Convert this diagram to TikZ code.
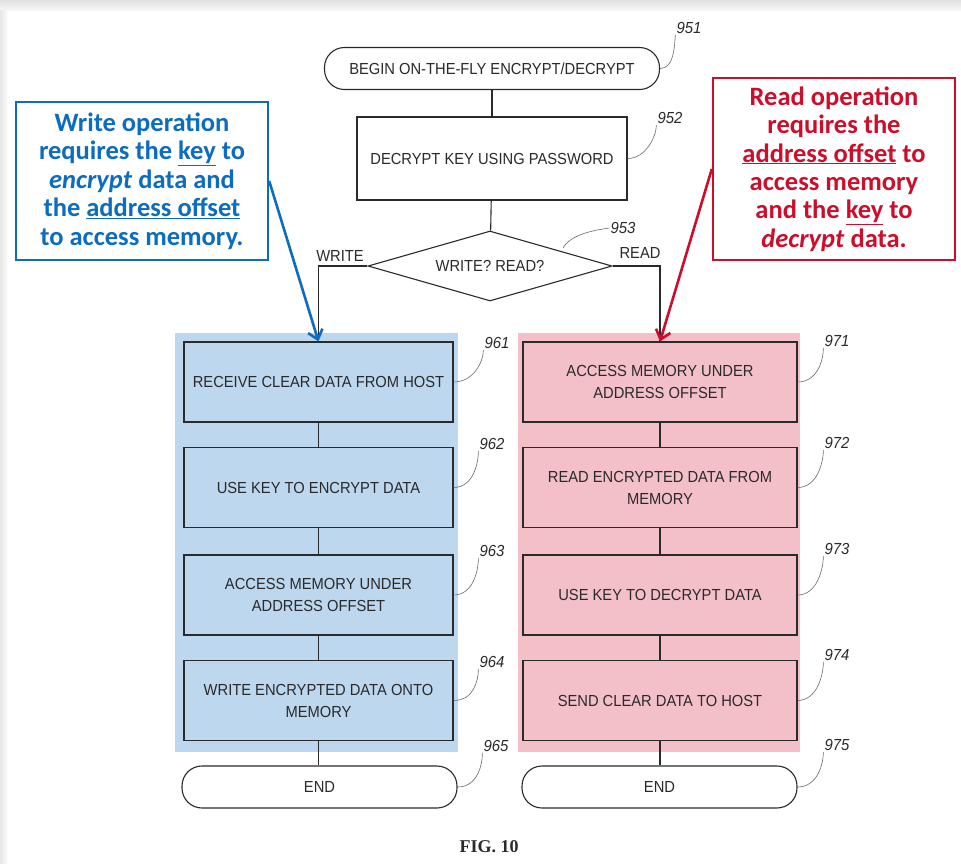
\documentclass[tikz,border=0pt]{standalone}
\usepackage{fontspec}
\usetikzlibrary{shapes.geometric,arrows.meta}
\newfontfamily\patfont[FakeStretch=0.92]{Liberation Sans}
\newfontfamily\reffont[FakeStretch=0.93]{Liberation Sans}
\newfontfamily\callfont{Carlito}
\newfontfamily\figfont{Liberation Serif}
\definecolor{inkc}{HTML}{2A2A2A}
\definecolor{panelblue}{HTML}{BDD7EE}
\definecolor{panelpink}{HTML}{F3BFC9}
\definecolor{noteblue}{HTML}{0B6CC0}
\definecolor{notered}{HTML}{CC0E2A}
\begin{document}
\begin{tikzpicture}[x=1pt,y=-1pt,
  every node/.style={text=inkc},
  stepbox/.style={draw=inkc, line width=1.1pt, minimum width=269pt, minimum height=80pt,
    inner sep=0pt, align=center, font=\patfont\fontsize{16}{22}\selectfont},
  termbox/.style={draw=inkc, line width=1.1pt, rounded corners=20pt, minimum height=42pt,
    inner sep=0pt, align=center, font=\patfont\fontsize{16}{22}\selectfont},
  flow/.style={draw=inkc, line width=1.1pt},
  refnum/.style={font=\reffont\itshape\fontsize{16}{18}\selectfont, inner sep=1pt},
  leader/.style={draw=inkc!70, line width=0.6pt},
  branch/.style={font=\patfont\fontsize{16}{18}\selectfont, inner sep=0pt},
  note/.style={line width=2.4pt, inner sep=0pt, align=center,
    font=\callfont\bfseries\fontsize{26.5}{28.4}\selectfont},
  notearrow/.style={line width=2.6pt, -{Straight Barb[length=9pt,width=15pt,line width=2.6pt]}}
]
\useasboundingbox (0,0) rectangle (961,863);
\fill[white] (0,0) rectangle (961,863);
% soft page edge
\shade[top color=black!12, bottom color=black!3] (0,0) rectangle (961,10);
\shade[left color=black!9, right color=black!3] (0,10) rectangle (7,863);

% coloured panels behind the two branches
\fill[panelblue] (175,333) rectangle (458,752);
\fill[panelpink] (518,333) rectangle (800,752);

% main trunk
\node[termbox, minimum width=335pt] (begin) at (492,68.5) {BEGIN ON-THE-FLY ENCRYPT/DECRYPT};
\node[stepbox, minimum width=270pt, minimum height=83pt] (dkey) at (492,158.5) {DECRYPT KEY USING PASSWORD};
\node[draw=inkc, line width=1.1pt, shape=diamond, aspect=3.4, minimum width=244pt, minimum height=70pt,
  inner sep=0pt, font=\patfont\fontsize{16}{18}\selectfont] (dia) at (490,266) {WRITE? READ?};

% write branch
\node[stepbox] (w1) at (318.5,382) {RECEIVE CLEAR DATA FROM HOST};
\node[stepbox] (w2) at (318.5,487.5) {USE KEY TO ENCRYPT DATA};
\node[stepbox] (w3) at (318.5,595) {ACCESS MEMORY UNDER\\ADDRESS OFFSET};
\node[stepbox] (w4) at (318.5,700.5) {WRITE ENCRYPTED DATA ONTO\\MEMORY};
\node[termbox, minimum width=275pt] (wend) at (319.5,787) {END};

% read branch
\node[stepbox, minimum width=274pt] (r1) at (660,382) {ACCESS MEMORY UNDER\\ADDRESS OFFSET};
\node[stepbox, minimum width=274pt] (r2) at (660,487.5) {READ ENCRYPTED DATA FROM\\MEMORY};
\node[stepbox, minimum width=274pt] (r3) at (660,595) {USE KEY TO DECRYPT DATA};
\node[stepbox, minimum width=274pt] (r4) at (660,700.5) {SEND CLEAR DATA TO HOST};
\node[termbox, minimum width=275pt] (rend) at (659.5,787) {END};

% flow lines
\draw[flow] (begin) -- (dkey);
\draw[flow] (dkey) -- (dia);
\draw[flow] (dia.west) -| (w1.north);
\draw[flow] (dia.east) -| (r1.north);
\draw[flow] (w1) -- (w2);
\draw[flow] (w2) -- (w3);
\draw[flow] (w3) -- (w4);
\draw[flow] (w4.south) -- (w4.south |- wend.north);
\draw[flow] (r1) -- (r2);
\draw[flow] (r2) -- (r3);
\draw[flow] (r3) -- (r4);
\draw[flow] (r4.south) -- (r4.south |- rend.north);

% branch labels
\node[branch] (lwrite) at (340,256) {WRITE};
\node[branch] (lread) at (640,253) {READ};

% reference numerals and their leaders
\node[refnum] (n951) at (689,28) {951};
\draw[leader] (begin.east) .. controls +(14,0) and +(-1,12) .. (n951.south west);
\node[refnum] (n952) at (670,118) {952};
\draw[leader] (dkey.east) .. controls +(18,0) and +(0,12) .. (n952.south west);
\node[refnum] (n953) at (623,228) {953};
\coordinate (d953) at (563,248);
\draw[leader] (d953) .. controls +(8,-14) and +(-14,2) .. (n953.west);

\node[refnum] (n961) at (497,343) {961};
\draw[leader] (w1.east) .. controls +(20,0) and +(0,12) .. (n961.south west);
\node[refnum] (n962) at (492,444) {962};
\draw[leader] (w2.east) .. controls +(20,0) and +(0,12) .. (n962.south west);
\node[refnum] (n963) at (492,551) {963};
\draw[leader] (w3.east) .. controls +(20,0) and +(0,12) .. (n963.south west);
\node[refnum] (n964) at (492,662) {964};
\draw[leader] (w4.east) .. controls +(20,0) and +(0,12) .. (n964.south west);
\node[refnum] (n965) at (496,746) {965};
\draw[leader] (wend.east) .. controls +(20,0) and +(0,12) .. (n965.south west);

\node[refnum] (n971) at (837,341) {971};
\draw[leader] (r1.east) .. controls +(20,0) and +(0,12) .. (n971.south west);
\node[refnum] (n972) at (837,443) {972};
\draw[leader] (r2.east) .. controls +(20,0) and +(0,12) .. (n972.south west);
\node[refnum] (n973) at (837,549) {973};
\draw[leader] (r3.east) .. controls +(20,0) and +(0,12) .. (n973.south west);
\node[refnum] (n974) at (837,655) {974};
\draw[leader] (r4.east) .. controls +(20,0) and +(0,12) .. (n974.south west);
\node[refnum] (n975) at (837,745) {975};
\draw[leader] (rend.east) .. controls +(20,0) and +(0,12) .. (n975.south west);

% figure caption
\node[font=\figfont\bfseries\fontsize{18}{20}\selectfont] (fig) at (489,847) {FIG. 10};

% call-out notes
\node[note, draw=noteblue, fill=white, text=noteblue, minimum width=252pt, minimum height=158pt] (wnote) at (142,181)
  {Write operation\\requires the \underline{key} to\\\textit{encrypt} data and\\the \underline{address offset}\\to access memory.};
\node[note, draw=notered, fill=white, text=notered, minimum width=242pt, minimum height=182pt] (rnote) at (834,169)
  {Read operation\\requires the\\\underline{address offset} to\\access memory\\and the \underline{key} to\\\textit{decrypt} data.};
\draw[notearrow, noteblue] (wnote.east) -- (w1.north);
\draw[notearrow, notered] (rnote.west) -- (r1.north);
\end{tikzpicture}
\end{document}
